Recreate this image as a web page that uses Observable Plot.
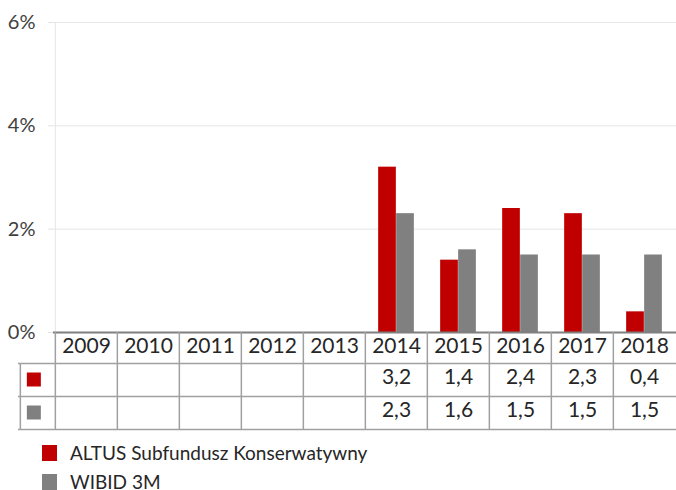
<!DOCTYPE html>
<html>
<head>
<meta charset="utf-8">
<script src="https://cdn.jsdelivr.net/npm/d3@7"></script>
<script src="https://cdn.jsdelivr.net/npm/@observablehq/plot@0.6"></script>
<style>
  html, body { margin: 0; padding: 0; background: #fff; }
  #chart { position: relative; width: 676px; height: 490px; overflow: hidden; font-family: Lato, "Open Sans", sans-serif; }
  .legend { padding-left: 42px; padding-top: 6px; }
  .legend .row { display: flex; align-items: center; height: 29px; font-size: 19px; color: #262626; }
  .legend .sw { width: 15px; height: 16px; margin-right: 13px; flex: none; }
</style>
</head>
<body>
<div id="chart"></div>
<script>
const years = ["2009","2010","2011","2012","2013","2014","2015","2016","2017","2018"];
const altus = [null, null, null, null, null, 3.2, 1.4, 2.4, 2.3, 0.4];
const wibid = [null, null, null, null, null, 2.3, 1.6, 1.5, 1.5, 1.5];
const yTicks = [0, 2, 4, 6];
const seriesNames = ["ALTUS Subfundusz Konserwatywny", "WIBID 3M"];
const colors = ["#C00000", "#808080"];

const rows = years.map((year, i) => ({year, altus: altus[i], wibid: wibid[i]}));
const fmt = v => v == null ? "" : v.toFixed(1).replace(".", ",");

const W = 676, H = 432, mL = 53, mR = 0, mT = 22, mB = 100;
const frameH = H - mT - mB;
const bw = (W - mL - mR) / years.length;
const barW = 18;
const rowH = [31, 33, 33];
const keyW = 35;
const lineCol = "#a0a0a0";
const txtCol = "#262626";
const font = "Lato";
const tY = 4.5; // baseline tweak for table text

const plot = Plot.plot({
  width: W, height: H,
  marginLeft: mL, marginRight: mR, marginTop: mT, marginBottom: mB,
  style: {fontFamily: font, background: "#fff", overflow: "visible"},
  x: {type: "band", domain: years, padding: 0, axis: null},
  y: {domain: [0, 6], axis: null},
  marks: [
    Plot.gridY([2, 4, 6], {stroke: "#e6e6e6", strokeOpacity: 1}),
    Plot.gridY(yTicks, {stroke: "#e3e3e3", strokeOpacity: 1, insetLeft: -5, insetRight: W - mL - mR}),
    Plot.ruleX([years[0]], {x: d => d, dx: -bw / 2, stroke: "#e6e6e6"}),
    Plot.axisY(yTicks, {tickSize: 0, tickPadding: 18, tickFormat: d => d + "%", fontSize: 20, fill: "#404040"}),
    Plot.barY(rows.filter(d => d.altus != null), {x: "year", y: "altus", fill: colors[0], insetLeft: bw / 2 - barW, insetRight: bw / 2}),
    Plot.barY(rows.filter(d => d.wibid != null), {x: "year", y: "wibid", fill: colors[1], insetLeft: bw / 2, insetRight: bw / 2 - barW}),
    // table lines
    Plot.ruleY([0], {stroke: "#7f7f7f", strokeWidth: 2}),
    Plot.ruleY([0], {dy: rowH[0], stroke: lineCol, strokeWidth: 1.5, insetLeft: -keyW}),
    Plot.ruleY([0], {dy: rowH[0] + rowH[1], stroke: lineCol, strokeWidth: 1.5, insetLeft: -keyW}),
    Plot.ruleY([0], {dy: rowH[0] + rowH[1] + rowH[2], stroke: lineCol, strokeWidth: 1.5, insetLeft: -keyW}),
    Plot.ruleX(years, {x: d => d, dx: -bw / 2, insetTop: frameH, insetBottom: -(rowH[0] + rowH[1] + rowH[2]), stroke: lineCol, strokeWidth: 1.5}),
    Plot.ruleX([years[0]], {x: d => d, dx: -bw / 2 - keyW, insetTop: frameH + rowH[0], insetBottom: -(rowH[0] + rowH[1] + rowH[2]), stroke: lineCol, strokeWidth: 1.5}),
    // table texts
    Plot.text(rows, {x: "year", text: "year", frameAnchor: "bottom", dy: rowH[0] / 2 + tY, fontSize: 21, fill: txtCol}),
    Plot.text(rows, {x: "year", text: d => fmt(d.altus), frameAnchor: "bottom", dy: rowH[0] + rowH[1] / 2 + tY - 1, fontSize: 21, fill: txtCol}),
    Plot.text(rows, {x: "year", text: d => fmt(d.wibid), frameAnchor: "bottom", dy: rowH[0] + rowH[1] + rowH[2] / 2 + tY - 1, fontSize: 21, fill: txtCol}),
    // key squares
    Plot.dot([years[0]], {x: d => d, frameAnchor: "bottom", dx: -bw / 2 - 21.5, dy: rowH[0] + rowH[1] / 2 - 0.5, symbol: "square", r: 7.9, fill: colors[0], stroke: null}),
    Plot.dot([years[0]], {x: d => d, frameAnchor: "bottom", dx: -bw / 2 - 21.5, dy: rowH[0] + rowH[1] + rowH[2] / 2 - 0.5, symbol: "square", r: 7.9, fill: colors[1], stroke: null})
  ]
});

const chart = document.getElementById("chart");
chart.appendChild(plot);
const legend = document.createElement("div");
legend.className = "legend";
seriesNames.forEach((name, i) => {
  const row = document.createElement("div");
  row.className = "row";
  const sw = document.createElement("span");
  sw.className = "sw";
  sw.style.background = colors[i];
  const label = document.createElement("span");
  label.textContent = name;
  row.appendChild(sw);
  row.appendChild(label);
  legend.appendChild(row);
});
chart.appendChild(legend);
</script>
</body>
</html>
